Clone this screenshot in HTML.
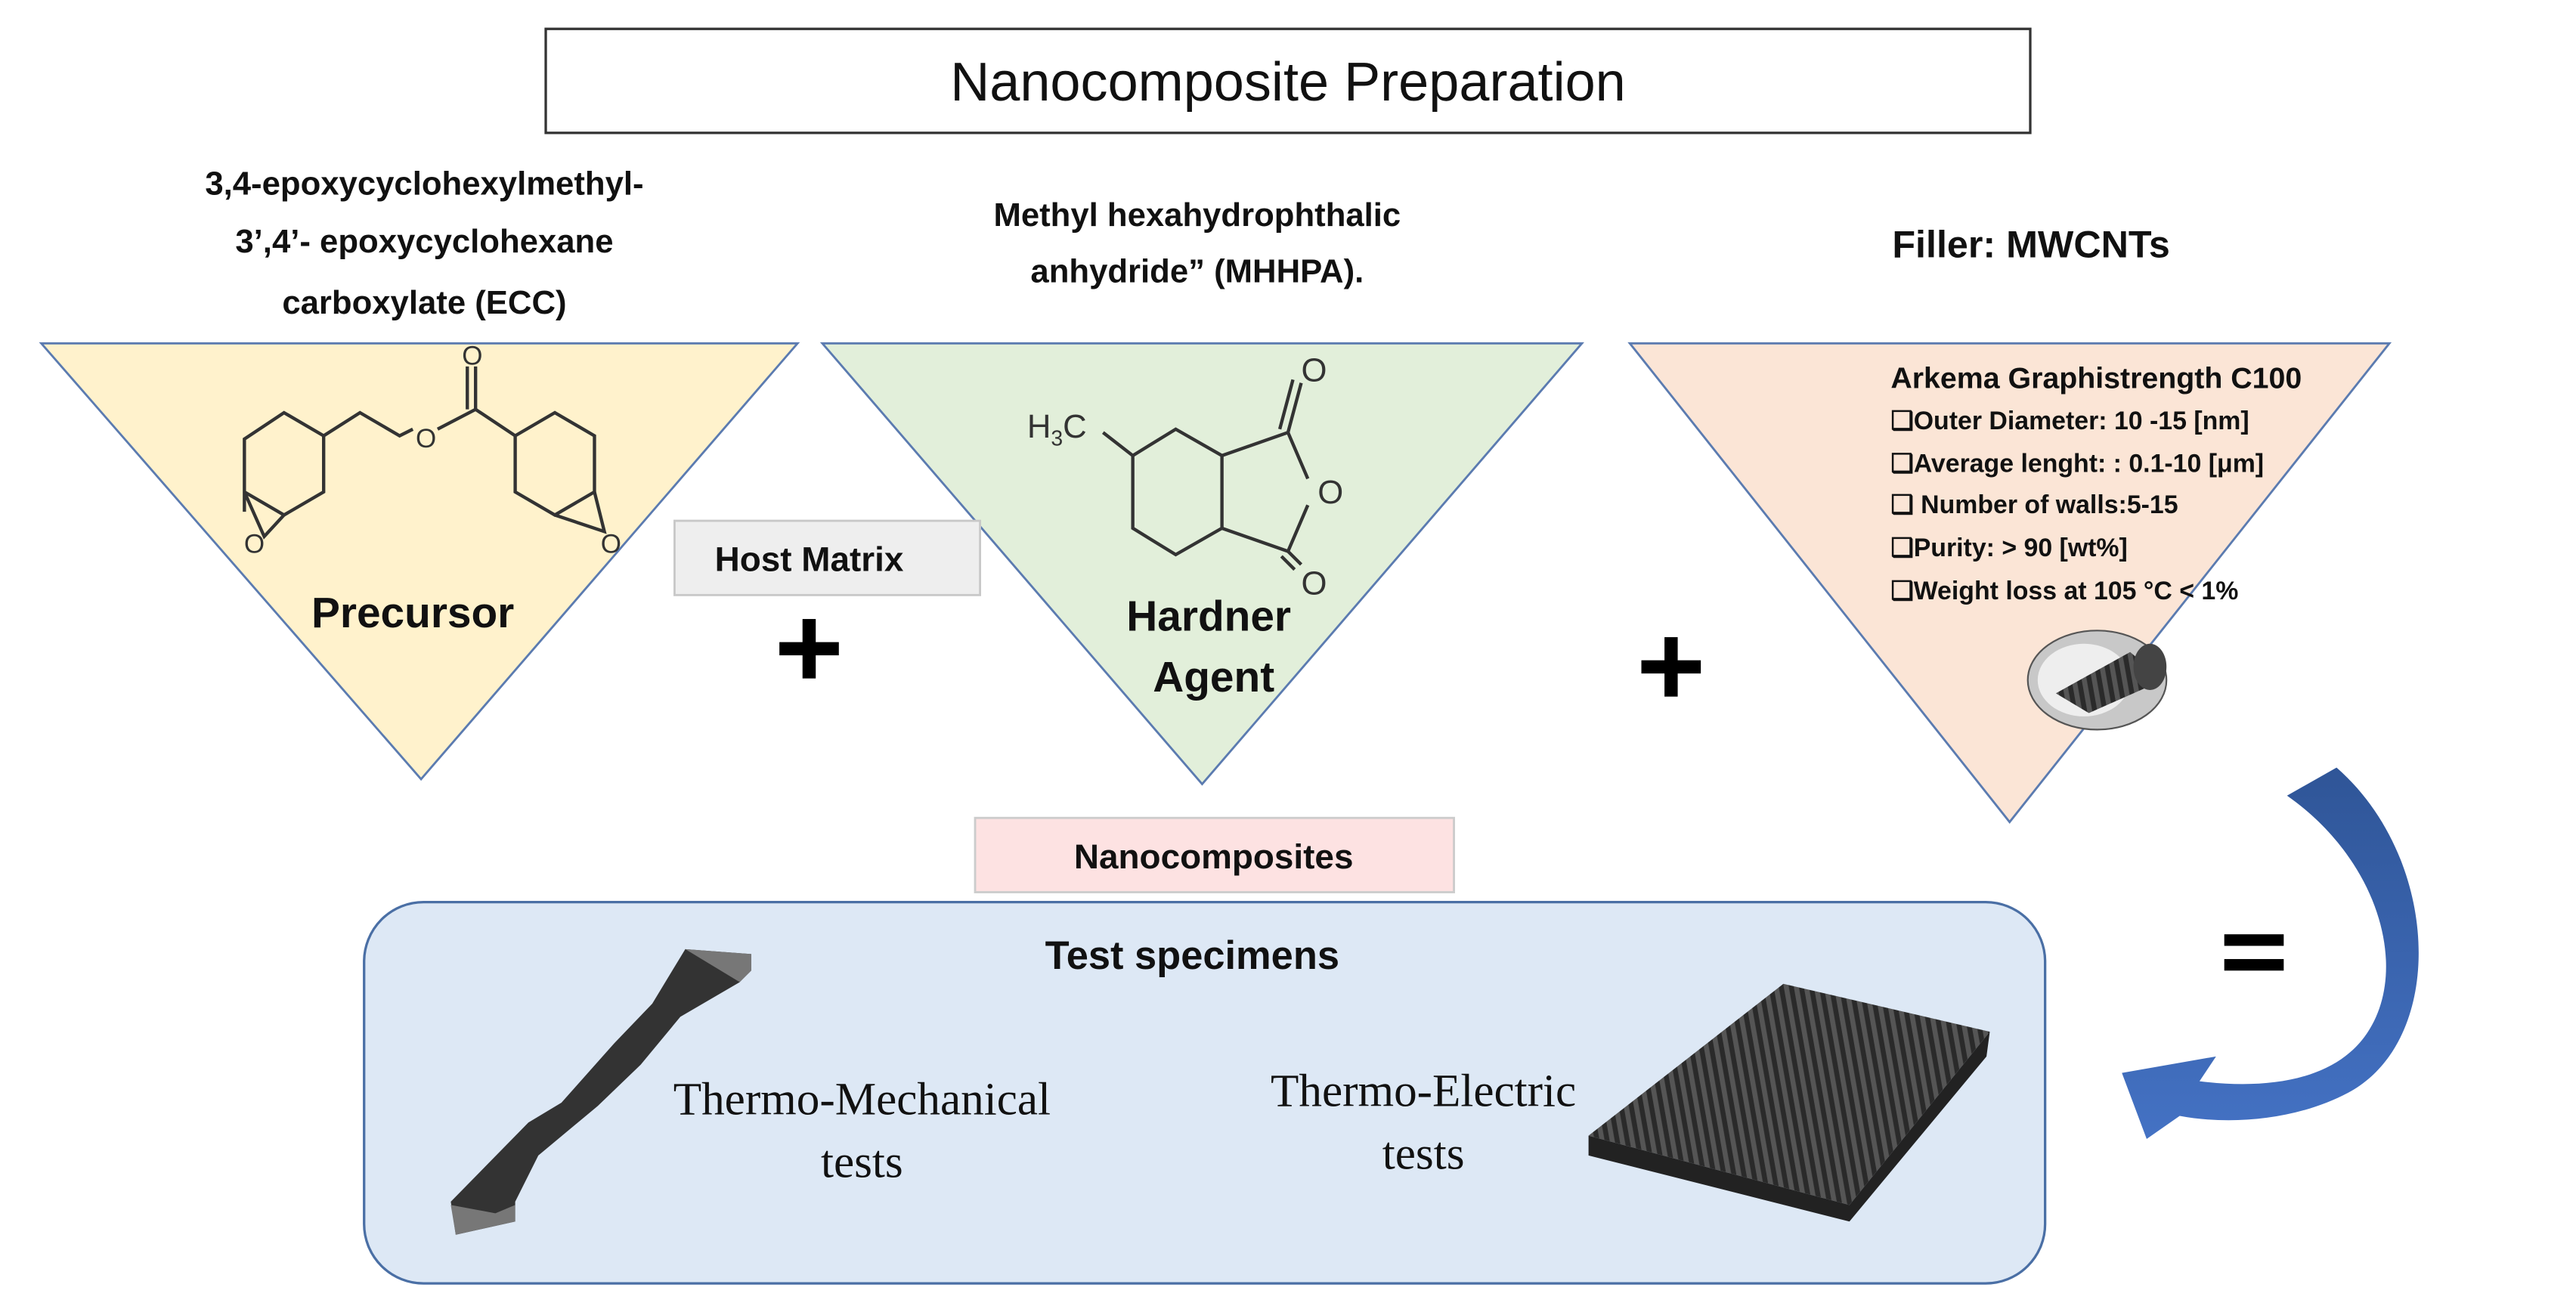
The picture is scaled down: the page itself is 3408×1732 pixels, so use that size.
<!DOCTYPE html>
<html><head><meta charset="utf-8"><style>
html,body{margin:0;padding:0;background:#fff}
svg{display:block}
.b{font-family:"Liberation Sans",sans-serif;font-weight:bold}
.s{font-family:"Liberation Serif",serif}
</style></head><body>
<svg width="3408" height="1732" viewBox="0 0 1560 793" preserveAspectRatio="none" xmlns="http://www.w3.org/2000/svg">
<defs>
<pattern id="cf" width="6" height="6" patternUnits="userSpaceOnUse" patternTransform="rotate(-10)">
<rect width="6" height="6" fill="#2a2a2a"/><rect width="3" height="6" fill="#555"/>
</pattern>
<linearGradient id="ag" x1="0" y1="0" x2="0" y2="1"><stop offset="0" stop-color="#2f5597"/><stop offset="1" stop-color="#4472c4"/></linearGradient>
</defs>
<rect width="1560" height="793" fill="#fff"/>
<rect x="330.5" y="17.5" width="899" height="63" fill="#fff" stroke="#333" stroke-width="1.5"/>
<text x="780" y="61" text-anchor="middle" font-family="Liberation Sans, sans-serif" font-size="33" fill="#111">Nanocomposite Preparation</text>

<g class="b" font-size="20" fill="#111" text-anchor="middle">
<text x="257" y="118">3,4-epoxycyclohexylmethyl-</text>
<text x="257" y="153">3’,4’- epoxycyclohexane</text>
<text x="257" y="190">carboxylate (ECC)</text>
<text x="725" y="137">Methyl hexahydrophthalic</text>
<text x="725" y="171">anhydride” (MHHPA).</text>
<text x="1230" y="156" font-size="23">Filler: MWCNTs</text>
</g>

<polygon points="25,208 483,208 255,472" fill="#fff2cc" stroke="#5b7bb0" stroke-width="1.3"/>
<polygon points="498,208 958,208 728,475" fill="#e2efda" stroke="#5b7bb0" stroke-width="1.3"/>
<polygon points="987,208 1447,208 1217,498" fill="#fbe5d6" stroke="#5b7bb0" stroke-width="1.3"/>

<g fill="none" stroke="#333" stroke-width="2">
<polyline points="148,310 148,266 172,250 196,264 196,298 172,312 148,298"/>
<polyline points="148,298 160,325 172,312"/>
<polyline points="196,264 218,250 242,264 250,260"/>
<polyline points="265,260 288,248 288,222"/>
<polyline points="283,248 283,222"/>
<polyline points="288,248 312,264 336,250 360,264 360,298 336,312 312,298 312,264"/>
<polyline points="360,298 366,322 336,312"/>
</g>
<g font-family="Liberation Sans,sans-serif" font-size="16" fill="#333" text-anchor="middle">
<text x="286" y="221">O</text><text x="258" y="271">O</text>
<text x="154" y="335">O</text><text x="370" y="335">O</text>
</g>
<text x="250" y="380" class="b" font-size="26" text-anchor="middle" fill="#111">Precursor</text>

<g fill="none" stroke="#333" stroke-width="2">
<polyline points="668,262 686,276 712,260 740,276 740,320 712,336 686,320 686,276"/>
<polyline points="740,276 780,262 792,290"/>
<polyline points="740,320 780,334 792,306"/>
<line x1="780" y1="262" x2="788" y2="232"/><line x1="775" y1="260" x2="783" y2="230"/>
<line x1="780" y1="334" x2="788" y2="342"/><line x1="776" y1="337" x2="784" y2="345"/>
</g>
<g font-family="Liberation Sans,sans-serif" font-size="20" fill="#333">
<text x="622" y="265">H<tspan font-size="13" dy="5">3</tspan><tspan dy="-5">C</tspan></text>
<text x="788" y="231">O</text><text x="798" y="305">O</text><text x="788" y="360">O</text>
</g>
<text x="732" y="382" class="b" font-size="26" text-anchor="middle" fill="#111">Hardner</text>
<text x="735" y="419" class="b" font-size="26" text-anchor="middle" fill="#111">Agent</text>

<g font-family="Liberation Sans,sans-serif" fill="#111">
<text x="1145" y="235" class="b" font-size="18">Arkema Graphistrength C100</text>
<g font-size="15.5" font-weight="bold">
<text x="1145" y="260">❑Outer Diameter: 10 -15 [nm]</text>
<text x="1145" y="286">❑Average lenght: : 0.1-10 [μm]</text>
<text x="1145" y="311">❑ Number of walls:5-15</text>
<text x="1145" y="337">❑Purity:  &gt; 90 [wt%]</text>
<text x="1145" y="363">❑Weight loss at 105 °C &lt; 1%</text>
</g>
</g>
<ellipse cx="1270" cy="412" rx="42" ry="30" fill="#c8c8c8" stroke="#555" stroke-width="1"/>
<ellipse cx="1262" cy="412" rx="28" ry="22" fill="#eee"/>
<path d="M1245,420 L1290,395 L1310,412 L1265,432 Z" fill="url(#cf)"/>
<ellipse cx="1302" cy="404" rx="10" ry="14" fill="#444"/>

<rect x="408.5" y="315.5" width="185" height="45" fill="#eeeeee" stroke="#c8c8c8" stroke-width="1.3"/>
<text x="490" y="346" class="b" font-size="21" text-anchor="middle" fill="#111">Host Matrix</text>

<g fill="#000"><rect x="472" y="389" width="36" height="8"/><rect x="486" y="375" width="8" height="36"/>
<rect x="994" y="400" width="36" height="8"/><rect x="1008" y="386" width="8" height="36"/>
<rect x="1347" y="566" width="36" height="7"/><rect x="1347" y="581" width="36" height="7"/></g>

<rect x="590.5" y="495.5" width="290" height="45" fill="#fde2e2" stroke="#ccc" stroke-width="1.3"/>
<text x="735" y="526" class="b" font-size="21" text-anchor="middle" fill="#111">Nanocomposites</text>

<rect x="220.5" y="546.5" width="1018" height="231" rx="36" fill="#dde8f5" stroke="#4a6fa5" stroke-width="1.5"/>
<text x="722" y="587" class="b" font-size="24" text-anchor="middle" fill="#111">Test specimens</text>

<path d="M273,728 L320,680 L340,668 L372,632 L395,608 L415,575 L455,578 L448,595 L412,616 L388,645 L362,670 L326,700 L312,728 L312,740 L276,748 Z" fill="#333"/>
<path d="M276,748 L312,740 L312,730 L300,735 L273,730 Z" fill="#777"/>
<path d="M415,575 L455,578 L455,588 L448,595 Z" fill="#777"/>
<g class="s" font-size="28" text-anchor="middle" fill="#111">
<text x="522" y="675">Thermo-Mechanical</text>
<text x="522" y="713">tests</text>
<text x="862" y="670">Thermo-Electric</text>
<text x="862" y="708">tests</text>
</g>

<polygon points="1080,596 1205,625 1120,730 962,688" fill="url(#cf)"/>
<polygon points="962,688 1120,730 1205,625 1203,640 1120,740 962,700" fill="#222"/>

<path d="M1385,482 L1415,465 C1478,520 1482,630 1422,662 C1392,678 1352,682 1320,676 L1300,690 L1285,650 L1342,640 L1332,655 C1372,660 1412,655 1432,628 C1460,590 1442,522 1385,482 Z" fill="url(#ag)"/>
</svg>
</body></html>
